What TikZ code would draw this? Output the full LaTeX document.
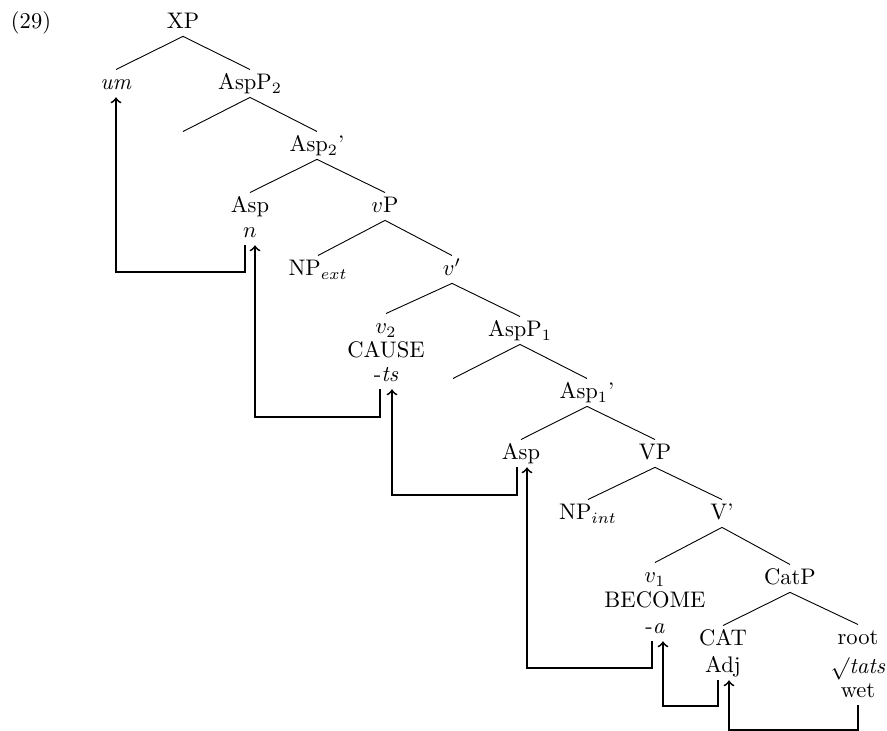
\documentclass[tikz,border=0pt]{standalone}
\usepackage{amsmath,amssymb}
\usetikzlibrary{calc,positioning}
\tikzset{
  cat/.style={anchor=base,text height=1.6ex,text depth=.25ex,inner xsep=1pt,inner ysep=2pt},
  mv/.style={->,thick},
}
\begin{document}
\begin{tikzpicture}[x=0.444pt,y=-0.444pt]
\useasboundingbox (0,0) rectangle (887,731);
\node[cat] (ex) at (31,29) {(29)};
% tree
\node[cat] (xp) at (183,29) {XP};
\node[cat] (um) at (116,90) {\textit{um}};
\node[cat] (asp2p) at (250,90) {AspP$_2$};
\node[cat] (e2) at (183,152) {};
\node[cat] (asp2b) at (317,152) {Asp$_2$'};
\node[cat] (asp2) at (250,213) {Asp};
\node[cat] (n) at (250,238) {$n$};
\node[cat] (vp) at (385,213) {$v$P};
\node[cat] (npext) at (318,276) {NP$_{ext}$};
\node[cat] (vbar) at (452,276) {$v'$};
\node[cat] (v2) at (386,334) {$v_2$};
\node[cat] (cause) at (386,358) {CAUSE};
\node[cat] (ts) at (386,382) {-\textit{ts}};
\node[cat] (asp1p) at (520,337) {AspP$_1$};
\node[cat] (e1) at (453,399) {};
\node[cat] (asp1b) at (587,399) {Asp$_1$'};
\node[cat] (asp1) at (521,460) {Asp};
\node[cat] (vP) at (655,460) {VP};
\node[cat] (npint) at (588,520) {NP$_{int}$};
\node[cat] (Vbar) at (722,520) {V'};
\node[cat] (v1) at (655,583) {$v_1$};
\node[cat] (become) at (655,608) {BECOME};
\node[cat] (a) at (655,634) {-\textit{a}};
\node[cat] (catp) at (790,585) {CatP};
\node[cat] (cat) at (723,646) {CAT};
\node[cat] (adj) at (723,673) {Adj};
\node[cat] (root) at (858,645) {root};
\node[cat] (tats) at (858,674) {$\surd$\textit{tats}};
\node[cat] (wet) at (858,698) {wet};

\draw (xp.south) -- (um.north) (xp.south) -- (asp2p.north);
\draw (asp2p.south) -- (e2.north) (asp2p.south) -- (asp2b.north);
\draw (asp2b.south) -- (asp2.north) (asp2b.south) -- (vp.north);
\draw (vp.south) -- (npext.north) (vp.south) -- (vbar.north);
\draw (vbar.south) -- (v2.north) (vbar.south) -- (asp1p.north);
\draw (asp1p.south) -- (e1.north) (asp1p.south) -- (asp1b.north);
\draw (asp1b.south) -- (asp1.north) (asp1b.south) -- (vP.north);
\draw (vP.south) -- (npint.north) (vP.south) -- (Vbar.north);
\draw (Vbar.south) -- (v1.north) (Vbar.south) -- (catp.north);
\draw (catp.south) -- (cat.north) (catp.south) -- (root.north);

% movement
\draw[mv] ($(n.south)+(-5,0)$) -- ++(0,27) -| (um);
\draw[mv] ($(ts.south)+(-6,0)$) -- ++(0,28) -| ($(n.south)+(5,0)$);
\draw[mv] ($(asp1.south)+(-4,0)$) -- ++(0,28) -| ($(ts.south)+(6,0)$);
\draw[mv] ($(a.south)+(-3,0)$) -- ++(0,27) -| ($(asp1.south)+(6,0)$);
\draw[mv] ($(adj.south)+(-5,0)$) -- ++(0,26) -| ($(a.south)+(8,0)$);
\draw[mv] (wet.south) -- ++(0,25) -| ($(adj.south)+(6,0)$);
\end{tikzpicture}
\end{document}
